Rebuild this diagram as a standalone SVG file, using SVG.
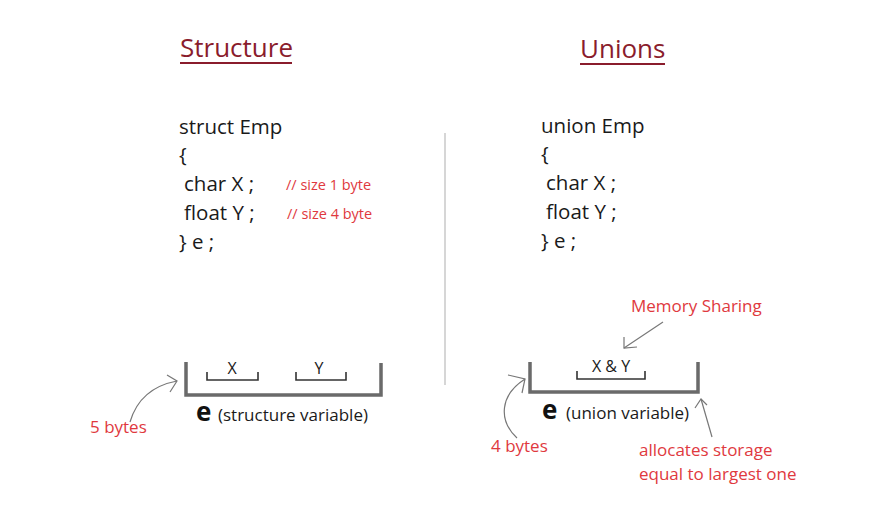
<svg xmlns="http://www.w3.org/2000/svg" width="878" height="513" viewBox="0 0 878 513">
<defs>
<style>
text{font-family:"Open Sans","Noto Sans",sans-serif;}
.title{font-size:26px;fill:#8a1c2c;}
.code{font-size:20.5px;fill:#1a1a1a;}
.cmt{font-size:14.5px;fill:#e0393e;}
.red{font-size:17px;fill:#e0393e;}
.lbl{font-size:17px;fill:#1a1a1a;}
.sm{font-size:16px;fill:#1a1a1a;}
.e{font-size:26px;font-weight:bold;fill:#111;}
.box{fill:none;stroke:#6a6a6a;stroke-width:3.5;}
.br{fill:none;stroke:#333;stroke-width:1.6;}
.arr{fill:none;stroke:#777;stroke-width:1.2;}
</style>
</defs>
<rect width="878" height="513" fill="#fff"/>
<g id="titles">
<text class="title" x="180" y="57">Structure</text>
<line x1="180" y1="63" x2="292" y2="63" stroke="#8a1c2c" stroke-width="2"/>
<text class="title" x="580" y="58">Unions</text>
<line x1="580" y1="64" x2="665" y2="64" stroke="#8a1c2c" stroke-width="2"/>
</g>
<line id="divider" x1="445" y1="133" x2="445" y2="385" stroke="#c8c8c8" stroke-width="1.5"/>
<g id="struct-code">
<text class="code" x="179" y="134">struct Emp</text>
<text class="code" x="179" y="162">{</text>
<text class="code" x="184" y="191">char X ;</text>
<text class="code" x="184" y="220">float Y ;</text>
<text class="code" x="179" y="249">} e ;</text>
<text class="cmt" x="286" y="190">// size 1 byte</text>
<text class="cmt" x="287" y="219">// size 4 byte</text>
</g>
<g id="union-code">
<text class="code" x="541" y="133">union Emp</text>
<text class="code" x="541" y="161">{</text>
<text class="code" x="546" y="190">char X ;</text>
<text class="code" x="546" y="219">float Y ;</text>
<text class="code" x="541" y="248">} e ;</text>
</g>
<g id="struct-box">
<polyline class="box" points="186,362 186,395 381,395 381,363"/>
<polyline class="br" points="207,372 207,380 258,380 258,372"/>
<polyline class="br" points="296,372 296,380 346,380 346,372"/>
<text class="sm" x="232" y="374" text-anchor="middle">X</text>
<text class="sm" x="319" y="374" text-anchor="middle">Y</text>
<text class="e" x="196" y="421">e</text>
<text class="lbl" x="218" y="421">(structure variable)</text>
</g>
<g id="struct-size">
<text class="red" x="90" y="433">5 bytes</text>
</g>
<g id="union-box">
<polyline class="box" points="530,362 530,392 698,392 698,362"/>
<polyline class="br" points="577,371 577,379 645,379 645,371"/>
<text class="sm" x="611" y="372" text-anchor="middle">X &amp; Y</text>
<text class="e" x="542" y="419">e</text>
<text class="lbl" x="566" y="419">(union variable)</text>
</g>
<g id="memory-sharing">
<text class="red" x="631" y="312">Memory Sharing</text>
</g>
<g id="union-size">
<text class="red" x="491" y="452">4 bytes</text>
</g>
<g id="allocates">
<text class="red" x="639" y="456">allocates storage</text>
<text class="red" x="639" y="480">equal to largest one</text>
</g>
<g id="connectors">
<path class="arr" d="M130,422 Q140,388 177,381"/>
<path class="arr" d="M167,375 L177,381 L170,392"/>
<path class="arr" d="M517,438 C498,420 500,395 525,379"/>
<path class="arr" d="M508,375 L525,379 L522,393"/>
<path class="arr" d="M712,437 L701,399"/>
<path class="arr" d="M695,408 L701,399 L707,405"/>
<path class="arr" d="M663,322 L624,348"/>
<path class="arr" d="M624,337 L624,348 L637,347"/>
</g>
</svg>
